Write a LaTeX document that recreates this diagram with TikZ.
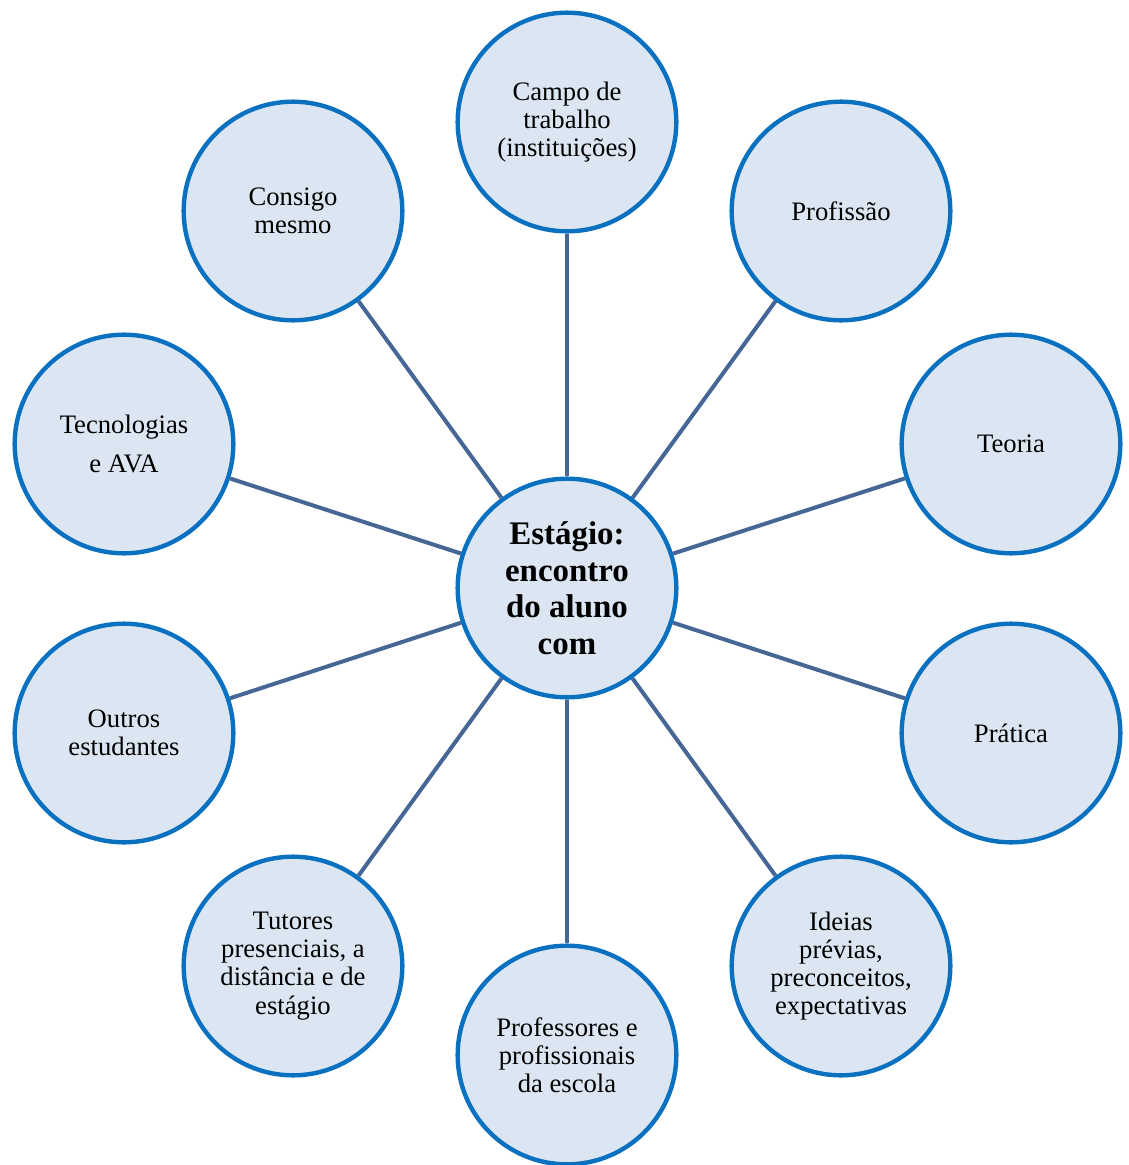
\documentclass[tikz,border=0pt]{standalone}
\usepackage{fontspec}
\setmainfont{Liberation Serif}
\usepackage{tikz}

\definecolor{ringfill}{RGB}{220,230,242}
\definecolor{ringdraw}{RGB}{10,112,192}
\definecolor{linkcol}{RGB}{70,102,150}

\tikzset{
  topic/.style={circle, draw=ringdraw, fill=ringfill, line width=3.3pt,
    minimum size=164pt, inner sep=0pt, align=center,
    font=\fontsize{20}{21.2}\selectfont},
  hub/.style={topic, font=\bfseries\fontsize{24.7}{27.4}\selectfont},
  link/.style={draw=linkcol, line width=3pt}
}

\begin{document}
\begin{tikzpicture}[x=0.75pt,y=0.75pt,yscale=-1,xscale=1]
%set diagram frame, 1129 wide and 1165 high
\useasboundingbox (0,0) rectangle (1129,1165);

%Center circle
\node [hub] (estagio) at (567,588) {Estágio:\\encontro\\do aluno\\com};

%Outer circles
\node [topic] (campo) at (567,122) {Campo de\\trabalho\\(instituições)};
\node [topic] (profissao) at (841,211) {Profissão};
\node [topic] (teoria) at (1011,444) {Teoria};
\node [topic] (pratica) at (1011,733) {Prática};
\node [topic] (ideias) at (841,966) {Ideias\\prévias,\\preconceitos,\\expectativas};
\node [topic] (professores) at (567,1055) {Professores e\\profissionais\\da escola};
\node [topic] (tutores) at (293,966) {Tutores\\presenciais, a\\distância e de\\estágio};
\node [topic] (outros) at (124,733) {Outros\\estudantes};
\node [topic] (tecno) at (124,444) {Tecnologias\\[8pt]e AVA};
\node [topic] (consigo) at (293,211) {Consigo\\mesmo};

%Spokes
\draw [link] (estagio) -- (campo);
\draw [link] (estagio) -- (profissao);
\draw [link] (estagio) -- (teoria);
\draw [link] (estagio) -- (pratica);
\draw [link] (estagio) -- (ideias);
\draw [link] (estagio) -- (professores);
\draw [link] (estagio) -- (tutores);
\draw [link] (estagio) -- (outros);
\draw [link] (estagio) -- (tecno);
\draw [link] (estagio) -- (consigo);

\end{tikzpicture}
\end{document}
